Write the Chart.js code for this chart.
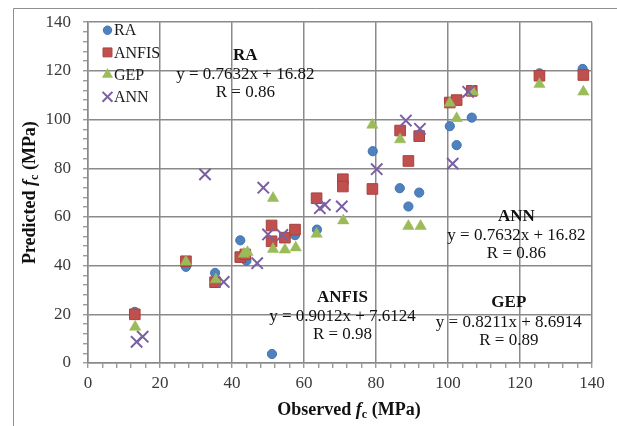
<!DOCTYPE html>
<html>
<head>
<meta charset="utf-8">
<script src="https://cdn.jsdelivr.net/npm/chart.js@4/dist/chart.umd.min.js"></script>
<style>
  html, body { margin: 0; padding: 0; background: #ffffff; }
  #wrap { position: relative; width: 617px; height: 426px; }
</style>
</head>
<body>
<div id="wrap"><canvas id="chart" width="617" height="426"></canvas></div>
<script>
// Observed vs predicted compressive strength (MPa), one [observed, predicted] pair per specimen
const raPoints = [
  [13, 21], [27.2, 39.5], [35.3, 37], [42.3, 50.4], [44, 42], [51.1, 3.7],
  [57.5, 52.5], [63.6, 54.8], [79.1, 87], [86.6, 71.8], [89, 64.3], [92, 70],
  [100.5, 97.3], [102.4, 89.5], [106.6, 100.8], [125.4, 119], [137.4, 120.8]
];
const anfisPoints = [
  [13, 20], [27.2, 41.8], [35.3, 33.2], [42.3, 43.5], [43.7, 44.6], [51, 56.5],
  [51, 50], [54.7, 51.5], [57.5, 54.8], [63.5, 67.7], [70.8, 75.5], [70.8, 72.5],
  [79, 71.5], [86.7, 95.5], [89, 83], [92, 93.2], [100.5, 107], [102.4, 108],
  [106.6, 111.8], [125.4, 118], [137.6, 118.3]
];
const gepPoints = [
  [13.1, 14.8], [27.2, 41.6], [35.5, 34.3], [43.3, 44.8], [44.3, 45.5], [51.4, 46.8],
  [54.7, 46.5], [57.7, 47.4], [51.4, 67.7], [63.5, 53], [70.9, 58.5], [79, 97.8],
  [86.7, 91.8], [89, 56.2], [92.4, 56.2], [100.5, 106.8], [102.4, 100.5],
  [106.9, 111.4], [125.4, 114.5], [137.6, 111.4]
];
const annPoints = [
  [13.5, 8.7], [15.2, 10.8], [32.5, 77.5], [37.7, 33.3], [47, 41], [48.7, 72],
  [50, 52.8], [54, 52.6], [64.4, 63.6], [65.8, 65], [70.5, 64.3], [80.2, 79.6],
  [88.3, 99.6], [92.2, 96.2], [101.3, 81.9], [105.6, 111.4]
];

// Series names and fitted regression summaries
const seriesNames = ['RA', 'ANFIS', 'GEP', 'ANN'];
const fitEquations = ['y = 0.7632x + 16.82', 'y = 0.9012x + 7.6124', 'y = 0.8211x + 8.6914', 'y = 0.7632x + 16.82'];
const fitR = ['R = 0.86', 'R = 0.98', 'R = 0.89', 'R = 0.86'];

// Axis range and tick labels
const axisMin = 0;
const axisMax = 140;
const majorStep = 20;
const minorStep = 4;

// Where each fit summary sits, in axis units (centre of the equation line)
const notePlacement = [
  { x: 43.7, y: 118.6 },
  { x: 70.7, y: 19.1 },
  { x: 116.9, y: 16.8 },
  { x: 119.0, y: 52.5 }
];

const serif = "'Liberation Serif', 'Times New Roman', serif";
const gridGray = '#8a8a8a';

const toXY = pts => pts.map(p => ({ x: p[0], y: p[1] }));

const styles = [
  { pointStyle: 'circle', radius: 4.6, legendRadius: 4.2, fill: '#4F81BD', stroke: '#4275B3', width: 1 },
  { pointStyle: 'rect', radius: 7.5, legendRadius: 6.3, fill: '#C0504D', stroke: '#A8403D', width: 1 },
  { pointStyle: 'triangle', radius: 6.6, legendRadius: 6, fill: '#9BBB59', stroke: '#9BBB59', width: 0.5 },
  { pointStyle: 'crossRot', radius: 8, legendRadius: 7, fill: 'rgba(0,0,0,0)', stroke: '#7A5FA3', width: 2 }
];
const seriesData = [raPoints, anfisPoints, gepPoints, annPoints];

const datasets = seriesNames.map((name, i) => ({
  label: name,
  data: toXY(seriesData[i]),
  pointStyle: styles[i].pointStyle,
  pointRadius: styles[i].radius,
  pointHoverRadius: styles[i].radius,
  backgroundColor: styles[i].fill,
  borderColor: styles[i].stroke,
  borderWidth: styles[i].width,
  // later series are drawn over earlier ones
  order: seriesNames.length - i
}));

// White page with the thin outer frame
const framePlugin = {
  id: 'frame',
  beforeDraw(chart) {
    const ctx = chart.ctx;
    ctx.save();
    ctx.fillStyle = '#ffffff';
    ctx.fillRect(0, 0, chart.width, chart.height);
    ctx.strokeStyle = '#8f8f8f';
    ctx.lineWidth = 1;
    ctx.beginPath();
    ctx.moveTo(13.5, chart.height);
    ctx.lineTo(13.5, 8.5);
    ctx.lineTo(chart.width, 8.5);
    ctx.stroke();
    ctx.restore();
  }
};

// Legend drawn inside the plot area, top-left
const insideLegend = {
  id: 'insideLegend',
  afterDatasetsDraw(chart) {
    const ctx = chart.ctx;
    const area = chart.chartArea;
    ctx.save();
    chart.data.datasets.forEach((ds, i) => {
      const cx = area.left + 19.5;
      const cy = area.top + 8 + i * 22.2;
      ctx.fillStyle = ds.backgroundColor;
      ctx.strokeStyle = ds.borderColor;
      ctx.lineWidth = ds.borderWidth;
      Chart.helpers.drawPoint(ctx, {
        pointStyle: ds.pointStyle,
        radius: styles[i].legendRadius,
        rotation: 0,
        borderWidth: ds.borderWidth
      }, cx, cy);
      ctx.fillStyle = '#1a1a1a';
      ctx.font = '16px ' + serif;
      ctx.textAlign = 'left';
      ctx.textBaseline = 'middle';
      ctx.fillText(ds.label, area.left + 26, cy + 1);
    });
    ctx.restore();
  }
};

// Regression summaries placed through the axis scales
const fitNotes = {
  id: 'fitNotes',
  afterDraw(chart) {
    const ctx = chart.ctx;
    const xs = chart.scales.x, ys = chart.scales.y;
    ctx.save();
    ctx.fillStyle = '#111111';
    ctx.textAlign = 'center';
    ctx.textBaseline = 'middle';
    seriesNames.forEach((name, i) => {
      const px = xs.getPixelForValue(notePlacement[i].x);
      const py = ys.getPixelForValue(notePlacement[i].y);
      ctx.font = 'bold 17px ' + serif;
      ctx.fillText(name, px, py - 19);
      ctx.font = '17px ' + serif;
      ctx.fillText(fitEquations[i], px, py);
      ctx.fillText(fitR[i], px, py + 18);
    });
    ctx.restore();
  }
};

// Axis titles with italic f and subscript c
function drawRich(ctx, parts, cx, cy) {
  let total = 0;
  parts.forEach(p => { ctx.font = p.font; total += ctx.measureText(p.t).width; });
  let x = cx - total / 2;
  parts.forEach(p => {
    ctx.font = p.font;
    ctx.fillText(p.t, x, cy + (p.dy || 0));
    x += ctx.measureText(p.t).width;
  });
}
function titleParts(word) {
  return [
    { t: word + ' ', font: 'bold 18px ' + serif },
    { t: 'f', font: 'italic bold 18px ' + serif },
    { t: 'c', font: 'bold 12px ' + serif, dy: 5 },
    { t: ' (MPa)', font: 'bold 18px ' + serif }
  ];
}
const axisTitles = {
  id: 'axisTitles',
  afterDraw(chart) {
    const ctx = chart.ctx;
    const area = chart.chartArea;
    ctx.save();
    ctx.fillStyle = '#111111';
    ctx.textAlign = 'left';
    ctx.textBaseline = 'middle';
    drawRich(ctx, titleParts('Observed'), (area.left + area.right) / 2 + 9, 410);
    ctx.translate(30, (area.top + area.bottom) / 2);
    ctx.rotate(-Math.PI / 2);
    drawRich(ctx, titleParts('Predicted'), 0, 0);
    ctx.restore();
  }
};

function axisConfig(isX) {
  return {
    type: 'linear',
    min: axisMin,
    max: axisMax,
    ticks: {
      stepSize: minorStep,
      autoSkip: false,
      maxRotation: 0,
      padding: isX ? 5 : 12,
      color: '#3a3a3a',
      font: { family: serif, size: 17 },
      callback: v => (v % majorStep === 0 ? String(v) : '')
    },
    grid: {
      color: c => (c.tick && c.tick.value % majorStep === 0 ? gridGray : 'rgba(0,0,0,0)'),
      lineWidth: 1.5,
      drawTicks: true,
      tickLength: 5,
      tickColor: gridGray,
      tickWidth: 1.2
    },
    border: { display: true, color: gridGray, width: 1.5 },
    afterFit: s => {
      if (isX) { s.height = 63; } else { s.width = 88; }
    }
  };
}

new Chart(document.getElementById('chart'), {
  type: 'scatter',
  data: { datasets },
  options: {
    responsive: false,
    animation: false,
    devicePixelRatio: 1,
    layout: { padding: { top: 19, right: 25, left: 0, bottom: 0 } },
    plugins: {
      legend: { display: false },
      tooltip: { enabled: false }
    },
    scales: {
      x: axisConfig(true),
      y: axisConfig(false)
    }
  },
  plugins: [framePlugin, insideLegend, fitNotes, axisTitles]
});
</script>
</body>
</html>
